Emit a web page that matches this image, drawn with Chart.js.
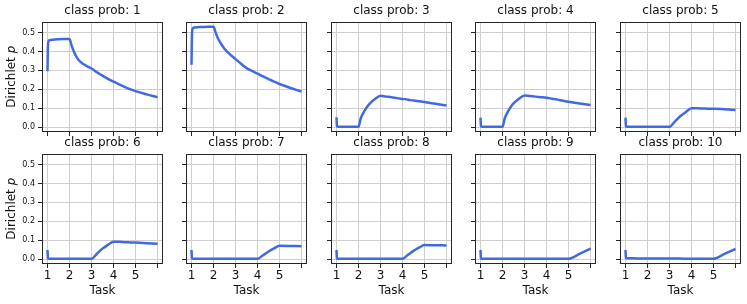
<!DOCTYPE html>
<html>
<head>
<meta charset="utf-8">
<script src="https://cdn.jsdelivr.net/npm/chart.js@4.4.1/dist/chart.umd.min.js"></script>
<style>
  body { margin: 0; background: #fff; width: 747px; height: 304px; position: relative; overflow: hidden; }
  canvas { position: absolute; }
</style>
</head>
<body>
<script>
// Task positions sampled along each curve
const taskX = [1, 1.02, 1.05, 1.1, 1.25, 1.5, 1.75, 2, 2.1, 2.2, 2.35, 2.5, 2.75, 3, 3.25, 3.5, 3.75, 4, 4.25, 4.5, 4.75, 5, 5.5, 6];

// Dirichlet p per class
const class1 = [0.296, 0.43, 0.455, 0.46, 0.463, 0.465, 0.466, 0.466, 0.43, 0.40, 0.365, 0.345, 0.325, 0.31, 0.29, 0.272, 0.255, 0.24, 0.226, 0.213, 0.201, 0.19, 0.173, 0.158];
const class2 = [0.33, 0.49, 0.52, 0.527, 0.529, 0.53, 0.531, 0.531, 0.50, 0.47, 0.44, 0.415, 0.385, 0.36, 0.335, 0.312, 0.297, 0.283, 0.268, 0.254, 0.24, 0.228, 0.207, 0.188];
const class3 = [0.052, 0.005, 0.002, 0.001, 0.001, 0.001, 0.001, 0.001, 0.045, 0.07, 0.1, 0.123, 0.148, 0.165, 0.161, 0.158, 0.153, 0.149, 0.145, 0.14, 0.136, 0.132, 0.123, 0.114];
const class4 = [0.05, 0.005, 0.002, 0.001, 0.001, 0.001, 0.001, 0.001, 0.045, 0.072, 0.102, 0.125, 0.15, 0.167, 0.164, 0.161, 0.158, 0.155, 0.15, 0.145, 0.139, 0.134, 0.125, 0.117];
const class5 = [0.05, 0.004, 0.002, 0.001, 0.001, 0.001, 0.001, 0.001, 0.001, 0.001, 0.001, 0.001, 0.001, 0.001, 0.03, 0.058, 0.08, 0.099, 0.099, 0.098, 0.097, 0.097, 0.094, 0.09];
const class6 = [0.048, 0.004, 0.002, 0.001, 0.001, 0.001, 0.001, 0.001, 0.001, 0.001, 0.001, 0.001, 0.001, 0.001, 0.028, 0.055, 0.075, 0.092, 0.091, 0.089, 0.088, 0.087, 0.084, 0.081];
const class7 = [0.048, 0.004, 0.002, 0.001, 0.001, 0.001, 0.001, 0.001, 0.001, 0.001, 0.001, 0.001, 0.001, 0.001, 0.001, 0.001, 0.001, 0.001, 0.02, 0.04, 0.056, 0.07, 0.069, 0.068];
const class8 = [0.048, 0.004, 0.002, 0.001, 0.001, 0.001, 0.001, 0.001, 0.001, 0.001, 0.001, 0.001, 0.001, 0.001, 0.001, 0.001, 0.001, 0.001, 0.022, 0.043, 0.06, 0.074, 0.073, 0.072];
const class9 = [0.048, 0.004, 0.002, 0.001, 0.001, 0.001, 0.001, 0.001, 0.001, 0.001, 0.001, 0.001, 0.001, 0.001, 0.001, 0.001, 0.001, 0.001, 0.001, 0.001, 0.001, 0.001, 0.027, 0.055];
const class10 = [0.048, 0.005, 0.004, 0.004, 0.004, 0.003, 0.003, 0.003, 0.003, 0.003, 0.003, 0.002, 0.002, 0.002, 0.002, 0.002, 0.001, 0.001, 0.001, 0.001, 0.001, 0.001, 0.027, 0.053];
const allClasses = [class1, class2, class3, class4, class5, class6, class7, class8, class9, class10];

// ticks
const taskTicks = [1, 2, 3, 4, 5, 6];
const taskLabels = ['1', '2', '3', '4', '5', ''];
const pTicks = [0, 0.1, 0.2, 0.3, 0.4, 0.5];

//panel placement (plot area corners)
const colLeft = [42, 186, 331, 475, 620];
const rowTop = [22, 154];
const plotW = 121, plotH = 110;
const padL = 42, padT = 22, padB = 40, padR = 6;

const FONT = "'DejaVu Sans', sans-serif";

// draws the box round the plot area
const framePlugin = {
  id: 'frame',
  afterDraw(chart) {
    const a = chart.chartArea, ctx = chart.ctx;
    ctx.save();
    ctx.strokeStyle = '#262626';
    ctx.lineWidth = 1;
    ctx.strokeRect(Math.round(a.left) + 0.5, Math.round(a.top) + 0.5, Math.round(a.width) - 1, Math.round(a.height) - 1);
    ctx.restore();
  }
};

allClasses.forEach(function (vals, i) {
  const row = Math.floor(i / 5), col = i % 5;
  const cv = document.createElement('canvas');
  cv.width = padL + plotW + padR;
  cv.height = padT + plotH + padB;
  cv.style.left = (colLeft[col] - padL) + 'px';
  cv.style.top = (rowTop[row] - padT) + 'px';
  document.body.appendChild(cv);

  new Chart(cv.getContext('2d'), {
    type: 'line',
    data: {
      datasets: [{
        data: taskX.map((x, k) => ({x: x, y: vals[k]})),
        borderColor: '#4169e1',
        borderWidth: 2.5,
        pointRadius: 0,
        cubicInterpolationMode: 'monotone',
        fill: false
      }]
    },
    options: {
      responsive: false,
      animation: false,
      devicePixelRatio: 1,
      layout: { padding: { left: 0, right: padR, top: 0, bottom: 0 } },
      plugins: {
        legend: { display: false },
        tooltip: { enabled: false },
        title: {
          display: true,
          text: 'class prob: ' + (i + 1),
          fullSize: false,
          color: '#111',
          font: { family: FONT, size: 12, weight: 'normal' },
          padding: { top: 4, bottom: 3.6 }
        }
      },
      scales: {
        x: {
          type: 'linear',
          min: 0.75,
          max: 6.25,
          afterBuildTicks: s => { s.ticks = taskTicks.map(v => ({value: v})); },
          afterFit: s => { s.height = padB; },
          grid: { color: '#cfcfcf', tickColor: '#262626', tickLength: 4, lineWidth: 1 },
          border: { display: false },
          ticks: {
            autoSkip: false,
            maxRotation: 0,
            padding: 1,
            color: '#111',
            font: { family: FONT, size: 12 },
            callback: v => row === 1 ? taskLabels[taskTicks.indexOf(v)] : ''
          },
          title: {
            display: row === 1,
            text: 'Task',
            color: '#111',
            font: { family: FONT, size: 12 },
            padding: { top: 0, bottom: 6 }
          }
        },
        y: {
          min: -0.0265,
          max: 0.5565,
          afterBuildTicks: s => { s.ticks = pTicks.map(v => ({value: v})); },
          afterFit: s => { s.width = padL; },
          grid: { color: '#cfcfcf', tickColor: '#262626', tickLength: 4, lineWidth: 1 },
          border: { display: false },
          ticks: {
            padding: 3,
            color: '#111',
            font: { family: FONT, size: 8 },
            callback: v => col === 0 ? v.toFixed(1) : ''
          },
          title: {
            display: col === 0,
            text: 'Dirichlet 𝑝',
            color: '#111',
            font: { family: FONT, size: 12 },
            padding: { top: 5, bottom: 0 }
          }
        }
      }
    },
    plugins: [framePlugin]
  });
});
</script>
</body>
</html>
